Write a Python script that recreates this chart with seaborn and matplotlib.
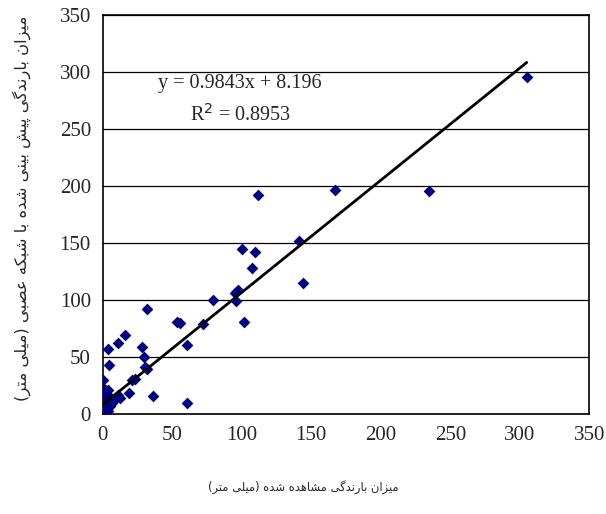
import matplotlib
matplotlib.use("Agg")
import matplotlib.pyplot as plt
import seaborn as sns
import pandas as pd

# observed vs predicted rainfall (mm)
observed = [305, 234.5, 166.8, 111.6, 141.4, 100.4, 109.8, 107.2, 143.9, 97.1,
            95.2, 95.7, 79.0, 55.6, 53.7, 72.4, 101.9, 31.6, 16.0, 10.8,
            4.0, 28.0, 29.9, 60.4, 4.8, 30.4, 31.6, 21.3, 23.2, 19.2,
            36.4, 60.4, 0.0, 0.4, 1.7, 11.2, 12.4, 5.3, 0.0, 3.6,
            0.0, 0.5, 1.0, 2.0, 0.0, 3.0, 1.0, 5.0, 7.0, 8.0,
            4.0, 2.0, 0.0, 6.0, 9.0, 0.0, 1.0, 2.5, 0.3]
predicted = [295.3, 195.6, 196.8, 191.8, 151.8, 144.5, 141.8, 128.3, 114.6, 108.8,
             106.4, 99.4, 100.3, 80.0, 80.4, 78.5, 80.7, 92.1, 69.3, 62.0,
             56.7, 59.0, 50.3, 60.2, 43.0, 41.0, 39.2, 29.8, 30.4, 18.7,
             16.1, 9.9, 29.8, 22.5, 21.0, 16.7, 13.7, 15.2, 20.0, 21.0,
             0.0, 2.0, 5.0, 8.0, 10.0, 4.0, 12.0, 7.0, 10.0, 12.0,
             3.0, 1.0, 5.0, 11.0, 13.0, 17.0, 19.0, 14.0, 7.0]

slope = 0.9843
intercept = 8.196
r2 = 0.8953

x_label = "میزان بارندگی مشاهده شده (میلی متر)"
y_label = "میزان بارندگی پیش بینی شده با شبکه عصبی (میلی متر)"

ticks = [0, 50, 100, 150, 200, 250, 300, 350]

# --- tiny persian shaper (matplotlib has no bidi/shaping) ---
forms = {
    "ا": ("\uFE8D", "\uFE8E", None, None),
    "د": ("\uFEA9", "\uFEAA", None, None),
    "ر": ("\uFEAD", "\uFEAE", None, None),
    "ز": ("\uFEAF", "\uFEB0", None, None),
    "ب": ("\uFE8F", "\uFE90", "\uFE91", "\uFE92"),
    "پ": ("\uFB56", "\uFB57", "\uFB58", "\uFB59"),
    "ت": ("\uFE95", "\uFE96", "\uFE97", "\uFE98"),
    "ش": ("\uFEB5", "\uFEB6", "\uFEB7", "\uFEB8"),
    "ص": ("\uFEB9", "\uFEBA", "\uFEBB", "\uFEBC"),
    "ع": ("\uFEC9", "\uFECA", "\uFECB", "\uFECC"),
    "گ": ("\uFB92", "\uFB93", "\uFB94", "\uFB95"),
    "ک": ("\uFB8E", "\uFB8F", "\uFB90", "\uFB91"),
    "ل": ("\uFEDD", "\uFEDE", "\uFEDF", "\uFEE0"),
    "م": ("\uFEE1", "\uFEE2", "\uFEE3", "\uFEE4"),
    "ن": ("\uFEE5", "\uFEE6", "\uFEE7", "\uFEE8"),
    "ه": ("\uFEE9", "\uFEEA", "\uFEEB", "\uFEEC"),
    "ی": ("\uFBFC", "\uFBFD", "\uFBFE", "\uFBFF"),
}


def shape(text):
    out = []
    for i, ch in enumerate(text):
        if ch not in forms:
            out.append(ch)
            continue
        prev = text[i - 1] if i > 0 else ""
        nxt = text[i + 1] if i + 1 < len(text) else ""
        join_prev = prev in forms and forms[prev][2] is not None
        join_next = forms[ch][2] is not None and nxt in forms
        iso, fin, ini, med = forms[ch]
        if join_prev and join_next:
            out.append(med)
        elif join_prev:
            out.append(fin)
        elif join_next:
            out.append(ini)
        else:
            out.append(iso)
    vis = "".join(reversed(out))
    return vis.translate(str.maketrans("()", ")("))


df = pd.DataFrame({"observed": observed, "predicted": predicted})
fit = pd.DataFrame({"x": [min(observed), max(observed)]})
fit["y"] = slope * fit["x"] + intercept

sns.set_style("white")
plt.rcParams["font.family"] = ["Liberation Serif", "DejaVu Sans"]

fig = plt.figure(figsize=(6.06, 5.14), dpi=100)
ax = fig.add_axes([0.1695, 0.1946, 0.803, 0.7762])

ax.set_axisbelow(True)
ax.yaxis.grid(True, color="black", linewidth=0.9)
ax.xaxis.grid(False)

sns.scatterplot(data=df, x="observed", y="predicted", marker="D", s=36,
                color="#000080", edgecolor="#000080", linewidth=0, ax=ax, zorder=3)
sns.lineplot(data=fit, x="x", y="y", color="black", linewidth=2, ax=ax, zorder=4)

ax.set_xlim(0, 350)
ax.set_ylim(0, 350)
ax.set_xticks(ticks)
ax.set_yticks(ticks)
ax.tick_params(axis="both", labelsize=15, length=5, width=1, color="black", pad=4)
ax.tick_params(axis="x", direction="out")
ax.tick_params(axis="y", direction="inout", length=9)
for s in ax.spines.values():
    s.set_color("black")
    s.set_linewidth(1.2)

ax.text(98.8, 290, f"y = {slope}x + {intercept}", fontsize=14.5, ha="center", va="center")
ax.text(98.8, 262, f"R$^2$ = {r2}", fontsize=14.5, ha="center", va="center")

ax.set_xlabel("")
ax.set_ylabel("")
fig.text(0.50, 0.052, shape(x_label), family="DejaVu Sans", fontsize=8.3,
         ha="center", va="center")
fig.text(0.036, 0.595, shape(y_label), family="DejaVu Sans", fontsize=11.8,
         ha="center", va="center", rotation=90)

fig.savefig("out.png", dpi=100)
